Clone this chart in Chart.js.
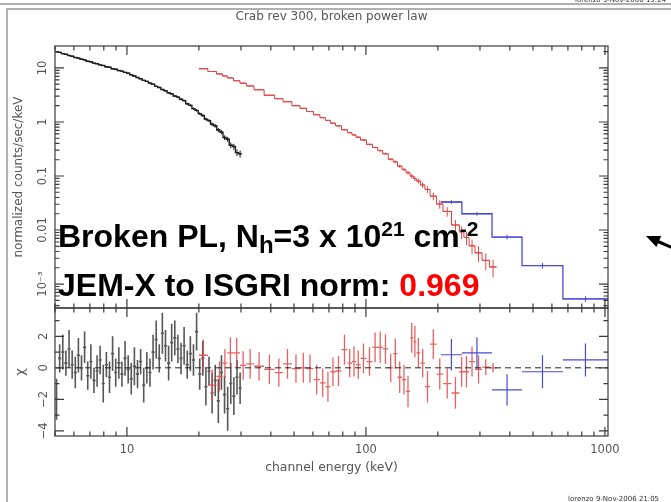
<!DOCTYPE html>
<html>
<head>
<meta charset="utf-8">
<title>Crab rev 300, broken power law</title>
<script src="https://cdn.jsdelivr.net/npm/chart.js@4.4.1/dist/chart.umd.min.js"></script>
<style>
  html, body { margin: 0; padding: 0; background: #fff; }
  #page { position: relative; width: 671px; height: 502px; overflow: hidden; background: #fff; }
  #spectrum { position: absolute; left: 0; top: 0; }
  #deco { position: absolute; left: 0; top: 0; }
  .stamp { position: absolute; font-family: "DejaVu Sans", sans-serif; font-size: 7px; color: #333; white-space: nowrap; }
  .note { position: absolute; left: 58px; font-family: "Liberation Sans", Arial, sans-serif; font-weight: bold; font-size: 32px; line-height: 32px; color: #000; white-space: nowrap; }
  .note .up { position: relative; top: -11px; font-size: 21px; }
  .note .down { position: relative; top: 6px; font-size: 24px; }
  .note .hot { color: #ff0000; }
</style>
</head>
<body>
<div id="page">
  <canvas id="spectrum" width="671" height="502"></canvas>
  <svg id="deco" width="671" height="502">
    <line x1="0" y1="4" x2="671" y2="4" stroke="#b0b0b0" stroke-width="2"/>
    <polyline points="7,502 7,9 671,9" fill="none" stroke="#b0b0b0" stroke-width="2"/>
    <line x1="658" y1="241.5" x2="672" y2="247.5" stroke="#000" stroke-width="3"/>
    <polygon points="646,236 656.4,247.1 661.2,236.1" fill="#000"/>
  </svg>
  <div class="stamp" style="left:575px; top:-4px;">lorenzo  9-Nov-2006 19:24</div>
  <div class="stamp" style="left:568px; top:495px;">lorenzo  9-Nov-2006 21:05</div>
  <div class="note" style="top:220px;">Broken PL, N<span class="down">h</span>=3 x 10<span class="up">21</span> cm<span class="up">-2</span></div>
  <div class="note" style="top:269px;">JEM-X to ISGRI norm: <span class="hot">0.969</span></div>
</div>
<script>
// JEM-X (black): bin edges in keV, normalized counts/sec/keV, fractional errors, residuals
const jemxEdges = [5.00, 5.15, 5.31, 5.47, 5.64, 5.81, 5.99, 6.17, 6.36, 6.55,
    6.75, 6.96, 7.17, 7.39, 7.61, 7.84, 8.08, 8.33, 8.58, 8.84,
    9.11, 9.39, 9.67, 9.97, 10.27, 10.58, 10.91, 11.24, 11.58, 11.93,
    12.30, 12.67, 13.06, 13.45, 13.86, 14.28, 14.72, 15.16, 15.62, 16.10,
    16.59, 17.09, 17.61, 18.15, 18.70, 19.27, 19.86, 20.46, 21.08, 21.72,
    22.38, 23.06, 23.76, 24.49, 25.23, 26.00, 26.79, 27.60, 28.44, 29.31, 30.20];
const jemxRate = [20.0, 19.4, 18.4, 17.9, 17.0, 16.5, 15.6, 15.2, 14.5, 14.1,
    13.3, 13.0, 12.3, 12.0, 11.4, 11.1, 10.5, 10.3, 9.70, 9.45,
    8.95, 8.72, 8.28, 7.99, 7.46, 7.12, 6.64, 6.33, 5.90, 5.64,
    5.24, 4.98, 4.57, 4.35, 3.99, 3.79, 3.47, 3.31, 3.02, 2.89,
    2.63, 2.49, 2.18, 2.03, 1.77, 1.64, 1.43, 1.32, 1.13, 1.06,
    0.905, 0.852, 0.712, 0.648, 0.515, 0.478, 0.372, 0.351, 0.271, 0.258];
const jemxErr = [0.02, 0.02, 0.02, 0.02, 0.02, 0.02, 0.02, 0.02, 0.02, 0.02,
    0.02, 0.02, 0.02, 0.02, 0.02, 0.02, 0.02, 0.02, 0.02, 0.02,
    0.025, 0.025, 0.025, 0.025, 0.025, 0.025, 0.025, 0.025, 0.025, 0.03,
    0.03, 0.03, 0.03, 0.03, 0.03, 0.035, 0.035, 0.035, 0.04, 0.04,
    0.04, 0.045, 0.045, 0.05, 0.05, 0.055, 0.06, 0.06, 0.065, 0.07,
    0.075, 0.08, 0.09, 0.09, 0.1, 0.11, 0.12, 0.13, 0.14, 0.15];
const jemxChi = [-2.0, 0.6, 1.0, 0.3, 1.2, 0.2, -0.3, 0.8, 0.0, 1.3,
    -0.5, 0.4, -0.8, -0.2, 0.5, -1.0, 0.2, -0.6, 0.9, -0.3,
    0.3, -0.4, 0.6, -0.1, -0.7, 0.1, -0.4, 0.4, -1.1, 0.0,
    -0.3, 1.0, 1.8, 0.6, 2.2, 1.4, 0.3, 1.6, 1.9, 1.2,
    0.6, 1.4, 0.2, 0.9, 0.5, 2.3, -0.4, 0.6, -1.2, -0.2,
    -1.6, -0.8, -2.1, -0.3, -1.7, -2.6, -1.0, -1.8, -0.6, -1.3];
const jemxChiErr = [1.3, 0.9, 1.1, 0.8, 1.2, 0.9, 1.0, 1.1, 0.8, 1.0,
    0.9, 1.1, 0.8, 1.0, 0.9, 1.2, 0.8, 1.0, 1.1, 0.9,
    1.0, 0.8, 1.1, 0.9, 1.0, 1.2, 0.9, 0.8, 1.1, 1.0,
    0.9, 1.1, 1.2, 0.9, 1.3, 1.0, 1.1, 1.2, 1.1, 0.9,
    1.0, 1.2, 0.9, 1.1, 1.0, 1.2, 1.0, 1.1, 1.2, 0.9,
    1.3, 1.0, 1.4, 1.1, 1.2, 1.4, 1.3, 1.2, 1.1, 1.0];

// ISGRI (red)
const isgriEdges = [20.0, 21.8, 23.7, 25.1, 26.3, 27.9, 29.7, 31.6, 34.0, 37.5,
    41.5, 45.0, 49.0, 53.0, 56.4, 60.3, 64.2, 67.7, 71.0, 74.6,
    79.0, 83.7, 87.4, 90.9, 94.9, 100.5, 106.5, 112, 117.5, 124,
    130, 135.5, 141.5, 147, 153, 158, 162.5, 169, 176.5, 185.5,
    197.5, 210, 228, 246, 257, 270, 286, 306, 329, 352];
const isgriRate = [9.67, 8.61, 7.74, 7.11, 6.53, 5.80, 5.23, 4.64, 3.95, 3.13,
    2.70, 2.37, 2.00, 1.79, 1.56, 1.36, 1.20, 1.07, 0.951, 0.847,
    0.718, 0.634, 0.577, 0.523, 0.464, 0.385, 0.337, 0.295, 0.258, 0.204,
    0.183, 0.152, 0.132, 0.115, 0.0995, 0.0899, 0.0811, 0.0681, 0.0562, 0.0423,
    0.0303, 0.0221, 0.0124, 0.00923, 0.00727, 0.00510, 0.00378, 0.00274, 0.00207];
const isgriErr = [0.01, 0.01, 0.01, 0.01, 0.01, 0.01, 0.01, 0.012, 0.012, 0.012,
    0.014, 0.014, 0.015, 0.015, 0.016, 0.017, 0.018, 0.019, 0.02, 0.022,
    0.024, 0.026, 0.028, 0.03, 0.033, 0.036, 0.04, 0.045, 0.05, 0.055,
    0.06, 0.07, 0.075, 0.08, 0.09, 0.1, 0.11, 0.12, 0.14, 0.16,
    0.18, 0.2, 0.24, 0.26, 0.28, 0.3, 0.32, 0.34, 0.36];
const isgriChi = [0.8, -1.1, -0.55, 0.3, 0.95, 0.95, 0.15, 0.25, 0.1, -0.1,
    -0.3, 0.25, -0.05, 0.0, -0.05, -0.75, -0.95, -1.2, -0.25, -0.2,
    1.15, 0.3, 0.4, 0.2, 0.6, 0.4, 1.3, 1.3, 1.2, 0.0,
    0.9, -0.6, -0.75, -1.5, 1.9, 1.65, 0.95, 0.3, -1.2, 1.5,
    -0.4, -1.0, -1.6, -0.25, -0.25, 0.4, -0.1, 0.05, 0.0];
const isgriChiErr = [1.0, 1.0, 0.95, 0.9, 1.0, 0.95, 0.9, 0.95, 0.9, 0.95,
    0.9, 0.95, 0.9, 0.95, 0.9, 0.95, 0.9, 0.95, 0.9, 0.95,
    0.95, 0.9, 0.95, 0.9, 0.95, 0.9, 0.95, 1.0, 0.95, 0.9,
    0.95, 1.0, 0.95, 1.0, 0.95, 1.0, 0.95, 0.9, 1.0, 0.95,
    1.0, 0.95, 1.0, 0.95, 1.0, 0.95, 0.9, 0.5, 0.3];

// SPI (blue)
const spiEdges = [206, 252, 337, 450, 667, 1030];
const spiRate = [0.033, 0.020, 0.0074, 0.0022, 0.00053];
const spiErr = [0.08, 0.08, 0.1, 0.12, 0.12];
const spiChi = [0.83, 0.95, -1.4, -0.25, 0.5];
const spiChiErr = [1.0, 1.0, 1.0, 1.05, 1.05];

// axes
const energyRange = [5, 1030];
const rateRange = [3.6e-4, 25.5];
const chiRange = [-4.33, 3.8];
const energyTicks = [10, 100, 1000];
const energyTickLabels = ['10', '100', '1000'];
const rateTicks = [0.001, 0.01, 0.1, 1, 10];
const rateTickLabels = ['10\u207B\u00B3', '0.01', '0.1', '1', '10'];
const chiTicks = [-4, -2, 0, 2];
const chiTickLabels = ['\u22124', '\u22122', '0', '2'];

const FONT = "'DejaVu Sans', sans-serif";
const INK = '#555';

function stepPoints(edges, vals) {
    const pts = vals.map((v, i) => ({ x: edges[i], y: v }));
    pts.push({ x: edges[vals.length], y: vals[vals.length - 1] });
    return pts;
}

function rateCrosses(edges, vals, err) {
    return vals.map((v, i) => ({
        x0: edges[i], x1: edges[i + 1], xc: Math.sqrt(edges[i] * edges[i + 1]),
        y: v, lo: v * (1 - err[i]), hi: v * (1 + err[i])
    }));
}

function chiCrosses(edges, chi, err) {
    return chi.map((c, i) => ({
        x0: edges[i], x1: edges[i + 1], xc: Math.sqrt(edges[i] * edges[i + 1]),
        y: c, lo: c - err[i], hi: c + err[i]
    }));
}

function centres(edges, chi) {
    return chi.map((c, i) => ({ x: Math.sqrt(edges[i] * edges[i + 1]), y: c }));
}

// error crosses, drawn through the chart scales
const crossPlugin = {
    id: 'crosses',
    afterDatasetsDraw(chart) {
        const ctx = chart.ctx;
        const xs = chart.scales.x;
        chart.data.datasets.forEach((ds) => {
            if (!ds.crosses) return;
            const ys = chart.scales[ds.yAxisID];
            ctx.save();
            ctx.strokeStyle = ds.crossColor;
            ctx.lineWidth = ds.crossWidth;
            ctx.beginPath();
            ds.crosses.forEach(c => {
                const py = ys.getPixelForValue(c.y);
                const pc = xs.getPixelForValue(c.xc);
                ctx.moveTo(xs.getPixelForValue(c.x0), py);
                ctx.lineTo(xs.getPixelForValue(c.x1), py);
                ctx.moveTo(pc, ys.getPixelForValue(c.lo));
                ctx.lineTo(pc, ys.getPixelForValue(c.hi));
            });
            ctx.stroke();
            ctx.restore();
        });
        // dashed zero line of the residual panel
        const r = chart.scales.r;
        const y0 = r.getPixelForValue(0);
        ctx.save();
        ctx.strokeStyle = '#222';
        ctx.lineWidth = 1;
        ctx.setLineDash([6, 4]);
        ctx.beginPath();
        ctx.moveTo(xs.left, y0);
        ctx.lineTo(xs.right, y0);
        ctx.stroke();
        ctx.restore();
    }
};

// panel boxes with inward tick marks on every side
const framePlugin = {
    id: 'frame',
    afterDraw(chart) {
        const { ctx } = chart;
        const { x, y, r } = chart.scales;
        ctx.save();
        ctx.strokeStyle = '#3a3a3a';
        ctx.lineWidth = 1.2;
        ctx.strokeRect(x.left, y.top, x.right - x.left, y.bottom - y.top);
        ctx.strokeRect(x.left, r.top, x.right - x.left, r.bottom - r.top);
        ctx.beginPath();
        for (let d = 1; d <= 1000; d *= 10) {
            for (let m = 1; m <= 9; m++) {
                const v = m * d;
                if (v < x.min || v > x.max) continue;
                const px = x.getPixelForValue(v);
                const len = m === 1 ? 9 : 4.5;
                [[y.top, 1], [y.bottom, -1], [r.top, 1], [r.bottom, -1]].forEach(([py, dir]) => {
                    ctx.moveTo(px, py);
                    ctx.lineTo(px, py + dir * len);
                });
            }
        }
        for (let d = 1e-4; d <= 10; d *= 10) {
            for (let m = 1; m <= 9; m++) {
                const v = m * d;
                if (v < y.min || v > y.max) continue;
                const py = y.getPixelForValue(v);
                const len = m === 1 ? 9 : 4.5;
                ctx.moveTo(x.left, py); ctx.lineTo(x.left + len, py);
                ctx.moveTo(x.right, py); ctx.lineTo(x.right - len, py);
            }
        }
        for (let v = -4; v <= 3; v++) {
            const py = r.getPixelForValue(v);
            const len = v % 2 === 0 ? 9 : 4.5;
            ctx.moveTo(x.left, py); ctx.lineTo(x.left + len, py);
            ctx.moveTo(x.right, py); ctx.lineTo(x.right - len, py);
        }
        ctx.stroke();
        ctx.restore();
    }
};

const tickFont = { family: FONT, size: 11.5 };

new Chart(document.getElementById('spectrum'), {
    type: 'line',
    data: {
        datasets: [
            {
                data: stepPoints(jemxEdges, jemxRate), yAxisID: 'y', stepped: 'before',
                borderColor: '#1e1e1e', borderWidth: 1.4, pointRadius: 0, fill: false,
                crosses: rateCrosses(jemxEdges, jemxRate, jemxErr), crossColor: '#1e1e1e', crossWidth: 1
            },
            {
                data: stepPoints(isgriEdges, isgriRate), yAxisID: 'y', stepped: 'before',
                borderColor: '#e03c3c', borderWidth: 1, pointRadius: 0, fill: false,
                crosses: rateCrosses(isgriEdges, isgriRate, isgriErr), crossColor: '#e04848', crossWidth: 1
            },
            {
                data: stepPoints(spiEdges, spiRate), yAxisID: 'y', stepped: 'before',
                borderColor: '#4a4ad6', borderWidth: 1.3, pointRadius: 0, fill: false,
                crosses: rateCrosses(spiEdges, spiRate, spiErr), crossColor: '#4a4ad6', crossWidth: 1
            },
            {
                type: 'scatter', data: centres(jemxEdges, jemxChi), yAxisID: 'r', pointRadius: 0, showLine: false,
                crosses: chiCrosses(jemxEdges, jemxChi, jemxChiErr), crossColor: 'rgba(45,45,45,0.8)', crossWidth: 1.6
            },
            {
                type: 'scatter', data: centres(isgriEdges, isgriChi), yAxisID: 'r', pointRadius: 0, showLine: false,
                crosses: chiCrosses(isgriEdges, isgriChi, isgriChiErr), crossColor: 'rgba(226,70,70,0.85)', crossWidth: 1.3
            },
            {
                type: 'scatter', data: centres(spiEdges, spiChi), yAxisID: 'r', pointRadius: 0, showLine: false,
                crosses: chiCrosses(spiEdges, spiChi, spiChiErr), crossColor: '#4a4ad6', crossWidth: 1.2
            }
        ]
    },
    options: {
        responsive: false,
        animation: false,
        devicePixelRatio: 1,
        layout: { padding: { left: 0, right: 63, top: 0, bottom: 0 } },
        plugins: {
            legend: { display: false },
            tooltip: { enabled: false },
            title: {
                display: true, fullSize: false,
                text: 'Crab rev 300, broken power law',
                color: INK, font: { family: FONT, size: 12, weight: 'normal' },
                padding: { top: 10, bottom: 21.6 }
            }
        },
        scales: {
            x: {
                type: 'logarithmic', position: 'bottom',
                min: energyRange[0], max: energyRange[1],
                grid: { display: false }, border: { display: false },
                afterBuildTicks: s => { s.ticks = energyTicks.map(v => ({ value: v })); },
                ticks: {
                    callback: (v, i) => energyTickLabels[i],
                    autoSkip: false, maxRotation: 0, minRotation: 0, padding: -1,
                    color: INK, font: tickFont
                },
                title: {
                    display: true, text: 'channel energy (keV)', color: INK,
                    font: { family: FONT, size: 12.4 }, padding: { top: 4, bottom: 27 }
                },
                afterFit: s => { s.height = 66; }
            },
            y: {
                type: 'logarithmic', position: 'left', stack: 'panels', stackWeight: 262, weight: 1,
                min: rateRange[0], max: rateRange[1],
                grid: { display: false }, border: { display: false },
                afterBuildTicks: s => { s.ticks = rateTicks.map(v => ({ value: v })); },
                ticks: {
                    callback: (v, i) => rateTickLabels[i],
                    autoSkip: false, minRotation: 90, maxRotation: 90, crossAlign: 'center', padding: -9,
                    color: INK, font: tickFont
                },
                title: {
                    display: true, text: 'normalized counts/sec/keV', color: INK,
                    font: { family: FONT, size: 12 }, padding: { top: 12 }
                },
                afterFit: s => { s.width = 55; }
            },
            r: {
                type: 'linear', position: 'left', stack: 'panels', stackWeight: 128, weight: 0,
                min: chiRange[0], max: chiRange[1],
                grid: { display: false }, border: { display: false },
                afterBuildTicks: s => { s.ticks = chiTicks.map(v => ({ value: v })); },
                ticks: {
                    callback: (v, i) => chiTickLabels[i],
                    autoSkip: false, minRotation: 90, maxRotation: 90, crossAlign: 'center', padding: -5,
                    color: INK, font: tickFont
                },
                title: {
                    display: true, text: '\u03C7', color: INK,
                    font: { family: FONT, size: 13 }, padding: { top: 13 }
                },
                afterFit: s => { s.width = 55; }
            }
        }
    },
    plugins: [crossPlugin, framePlugin]
});
</script>
</body>
</html>
